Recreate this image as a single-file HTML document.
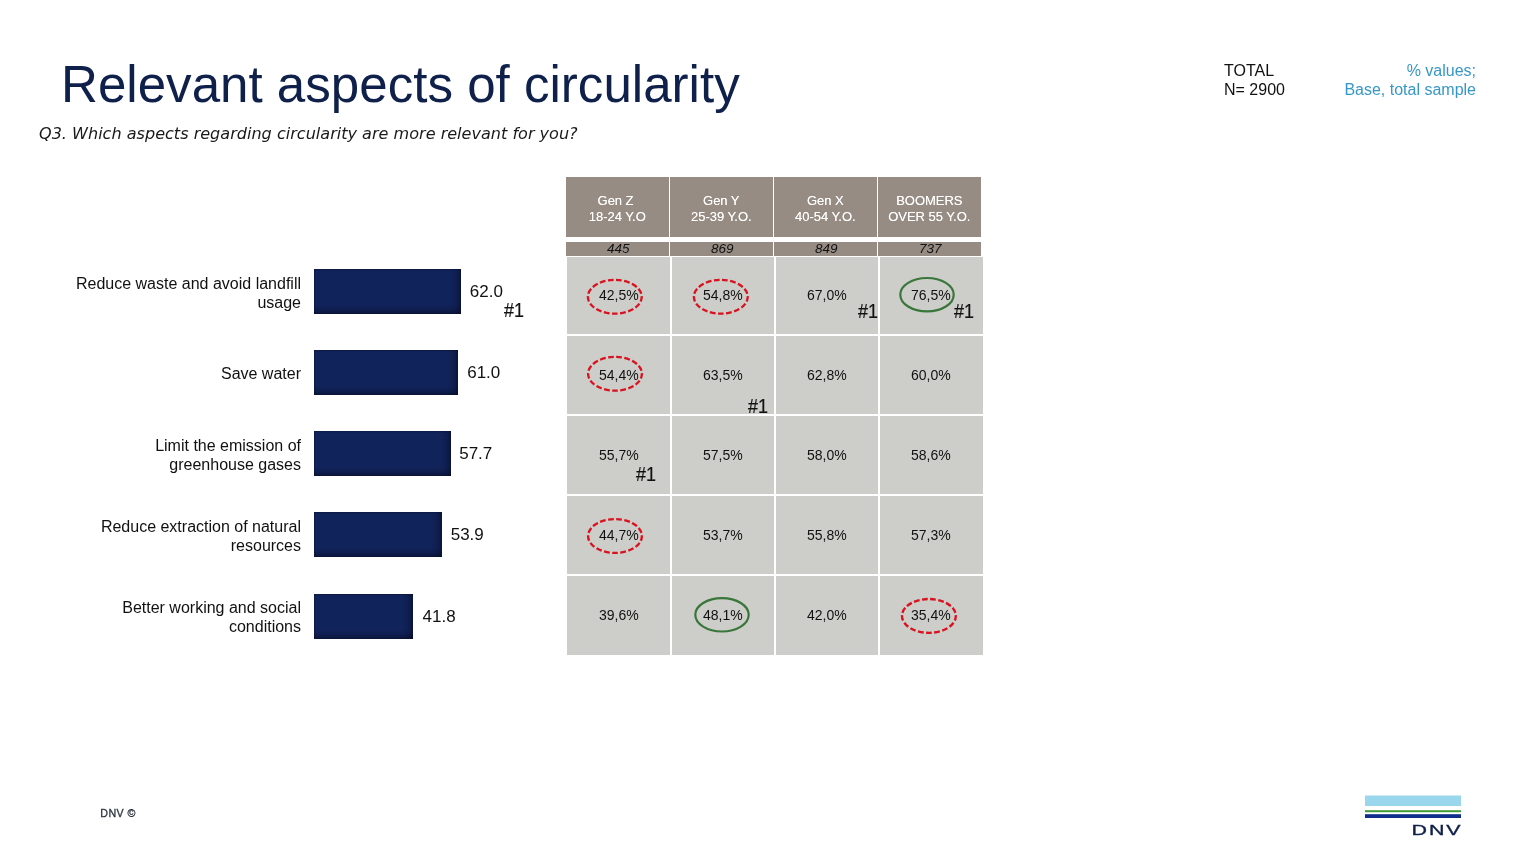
<!DOCTYPE html>
<html lang="en">
<head>
<meta charset="utf-8">
<title>Relevant aspects of circularity</title>
<style>
html,body{margin:0;padding:0;background:#fff;}
body{width:1525px;height:853px;position:relative;overflow:hidden;font-family:"Liberation Sans",sans-serif;color:#111;}
.abs{position:absolute;white-space:nowrap;}
#title{left:61px;top:55.7px;font-size:51.1px;line-height:58px;color:#0f204b;letter-spacing:0px;}
#sub{left:39px;top:122.5px;font-family:"DejaVu Sans",sans-serif;font-style:italic;font-size:15px;transform:scaleX(1.071);transform-origin:0 0;line-height:22px;color:#1a1a1a;}
#total{left:1224px;top:61px;font-size:16px;line-height:19px;color:#111;}
#pct{right:49px;top:61px;font-size:16px;line-height:19px;color:#3797c7;text-align:right;}
.lab{right:1224px;font-size:16px;line-height:19px;text-align:right;color:#111;}
.bar{left:314.3px;height:45px;background:linear-gradient(to left,rgba(4,8,30,.6) 0,rgba(4,8,30,.3) 2.5px,rgba(4,8,30,.12) 6px,rgba(4,8,30,0) 11px),linear-gradient(to top,rgba(4,8,30,.6) 0,rgba(4,8,30,.28) 3px,rgba(4,8,30,.08) 7px,rgba(4,8,30,0) 10px),linear-gradient(to bottom,rgba(4,8,30,.4) 0,rgba(4,8,30,0) 2px),linear-gradient(to right,rgba(4,8,30,.3) 0,rgba(4,8,30,0) 2px),#11235b;}
.val{font-size:17px;line-height:20px;color:#111;}
.hash{font-size:19.5px;line-height:20px;color:#111;-webkit-text-stroke:.2px #111;transform:scaleX(.92);transform-origin:0 0;}
.hd{background:#968c83;color:#fff;font-size:13px;line-height:15.5px;text-align:center;top:177px;height:59.5px;width:102.6px;box-sizing:border-box;padding-top:16.2px;letter-spacing:-0.05px;text-shadow:0 0 .6px rgba(255,255,255,.7);}
.hn{background:#968c83;color:#111;font-size:13.5px;line-height:14px;text-align:center;top:242px;height:13.6px;width:102.6px;font-style:italic;box-sizing:border-box;padding-left:2px;}
#tb{left:566.8px;top:257px;width:416.2px;height:397.8px;background:#cdcdc9;}
.vl{top:257px;height:398px;width:2.3px;background:#fff;}
.hl{left:566px;width:418px;height:2.3px;background:#fff;}
.c{width:80px;height:20px;text-align:center;font-size:14px;line-height:20px;color:#111;}
.el{border-radius:50%;box-sizing:border-box;width:55px;height:35px;}
.red{border:2px dashed #e01010;}
.grn{border:2px solid #3c7a3a;}
#foot{left:100.3px;top:807px;font-size:10.7px;line-height:12px;color:#2c3340;letter-spacing:.4px;-webkit-text-stroke:.3px #2c3340;}
</style>
</head>
<body>
<div class="abs" id="title">Relevant aspects of circularity</div>
<div class="abs" id="sub">Q3. Which aspects regarding circularity are more relevant for you?</div>
<div class="abs" id="total">TOTAL<br>N= 2900</div>
<div class="abs" id="pct">% values;<br>Base, total sample</div>

<!-- chart -->
<div class="abs lab" style="top:274px">Reduce waste and avoid landfill<br>usage</div>
<div class="abs bar" style="top:269px;width:147px"></div>
<div class="abs val" style="left:469.8px;top:281.9px">62.0</div>
<div class="abs hash" style="left:503.7px;top:300.3px">#1</div>

<div class="abs lab" style="top:364px">Save water</div>
<div class="abs bar" style="top:350.3px;width:143.8px"></div>
<div class="abs val" style="left:467.2px;top:363.2px">61.0</div>

<div class="abs lab" style="top:436px">Limit the emission of<br>greenhouse gases</div>
<div class="abs bar" style="top:431.4px;width:136.4px"></div>
<div class="abs val" style="left:459.2px;top:444.3px">57.7</div>

<div class="abs lab" style="top:517px">Reduce extraction of natural<br>resources</div>
<div class="abs bar" style="top:512.1px;width:127.6px"></div>
<div class="abs val" style="left:450.7px;top:525px">53.9</div>

<div class="abs lab" style="top:598px">Better working and social<br>conditions</div>
<div class="abs bar" style="top:594px;width:98.4px"></div>
<div class="abs val" style="left:422.5px;top:606.9px">41.8</div>

<!-- table header -->
<div class="abs hd" style="left:566px">Gen Z&nbsp;<br>18-24 Y.O</div>
<div class="abs hd" style="left:670px">Gen Y<br>25-39 Y.O.</div>
<div class="abs hd" style="left:774px">Gen X<br>40-54 Y.O.</div>
<div class="abs hd" style="left:878px">BOOMERS<br>OVER 55 Y.O.</div>
<div class="abs hn" style="left:566px">445</div>
<div class="abs hn" style="left:670px">869</div>
<div class="abs hn" style="left:774px">849</div>
<div class="abs hn" style="left:878px">737</div>

<!-- table body -->
<div class="abs" id="tb"></div>
<div class="abs vl" style="left:669.9px"></div>
<div class="abs vl" style="left:773.9px"></div>
<div class="abs vl" style="left:877.9px"></div>
<div class="abs hl" style="top:333.9px"></div>
<div class="abs hl" style="top:413.9px"></div>
<div class="abs hl" style="top:493.9px"></div>
<div class="abs hl" style="top:573.9px"></div>
<div class="abs c" style="left:578.80px;top:285.20px">42,5%</div>
<div class="abs c" style="left:682.80px;top:285.20px">54,8%</div>
<div class="abs c" style="left:786.80px;top:285.20px">67,0%</div>
<div class="abs c" style="left:890.80px;top:285.20px">76,5%</div>
<div class="abs c" style="left:578.80px;top:365.20px">54,4%</div>
<div class="abs c" style="left:682.80px;top:365.20px">63,5%</div>
<div class="abs c" style="left:786.80px;top:365.20px">62,8%</div>
<div class="abs c" style="left:890.80px;top:365.20px">60,0%</div>
<div class="abs c" style="left:578.80px;top:445.20px">55,7%</div>
<div class="abs c" style="left:682.80px;top:445.20px">57,5%</div>
<div class="abs c" style="left:786.80px;top:445.20px">58,0%</div>
<div class="abs c" style="left:890.80px;top:445.20px">58,6%</div>
<div class="abs c" style="left:578.80px;top:525.20px">44,7%</div>
<div class="abs c" style="left:682.80px;top:525.20px">53,7%</div>
<div class="abs c" style="left:786.80px;top:525.20px">55,8%</div>
<div class="abs c" style="left:890.80px;top:525.20px">57,3%</div>
<div class="abs c" style="left:578.80px;top:605.20px">39,6%</div>
<div class="abs c" style="left:682.80px;top:605.20px">48,1%</div>
<div class="abs c" style="left:786.80px;top:605.20px">42,0%</div>
<div class="abs c" style="left:890.80px;top:605.20px">35,4%</div>

<!-- ellipses -->
<svg class="abs" style="left:0;top:0" width="1525" height="853" viewBox="0 0 1525 853" fill="none">
<ellipse cx="614.8" cy="296.8" rx="26.9" ry="16.9" stroke="#d9121f" stroke-width="2.35" pathLength="136" stroke-dasharray="5.6 2.4" stroke-dashoffset="0.8"/>
<ellipse cx="720.8" cy="296.8" rx="26.9" ry="16.9" stroke="#d9121f" stroke-width="2.35" pathLength="136" stroke-dasharray="5.6 2.4" stroke-dashoffset="0.8"/>
<ellipse cx="927.0" cy="294.7" rx="26.7" ry="16.7" stroke="#38763a" stroke-width="2.2"/>
<ellipse cx="615.0" cy="373.8" rx="26.9" ry="16.9" stroke="#d9121f" stroke-width="2.35" pathLength="136" stroke-dasharray="5.6 2.4" stroke-dashoffset="0.8"/>
<ellipse cx="615.0" cy="536.0" rx="26.9" ry="16.9" stroke="#d9121f" stroke-width="2.35" pathLength="136" stroke-dasharray="5.6 2.4" stroke-dashoffset="0.8"/>
<ellipse cx="722.0" cy="614.8" rx="26.7" ry="16.7" stroke="#38763a" stroke-width="2.2"/>
<ellipse cx="928.9" cy="615.9" rx="26.9" ry="16.9" stroke="#d9121f" stroke-width="2.35" pathLength="136" stroke-dasharray="5.6 2.4" stroke-dashoffset="0.8"/>
</svg>

<!-- #1 marks in table -->
<div class="abs hash" style="left:857.7px;top:301.4px">#1</div>
<div class="abs hash" style="left:954.3px;top:301.4px">#1</div>
<div class="abs hash" style="left:747.7px;top:396px">#1</div>
<div class="abs hash" style="left:635.5px;top:463.7px">#1</div>

<div class="abs" id="foot">DNV ©</div>

<!-- logo -->
<svg class="abs" style="left:1360px;top:790px" width="110" height="55" viewBox="0 0 110 55">
<rect x="5" y="5.5" width="96" height="10.5" fill="#9bd7ec"/>
<rect x="5" y="20.2" width="96" height="2" fill="#3f9c35"/>
<rect x="5" y="24.2" width="96" height="3.8" fill="#0f2e8c"/>
<text transform="translate(51.6,45) scale(1.44,1)" font-family="Liberation Sans, sans-serif" font-size="14.9" fill="#0f204b" stroke="#0f204b" stroke-width="0.35" letter-spacing="1.3">DNV</text>
</svg>
</body>
</html>
